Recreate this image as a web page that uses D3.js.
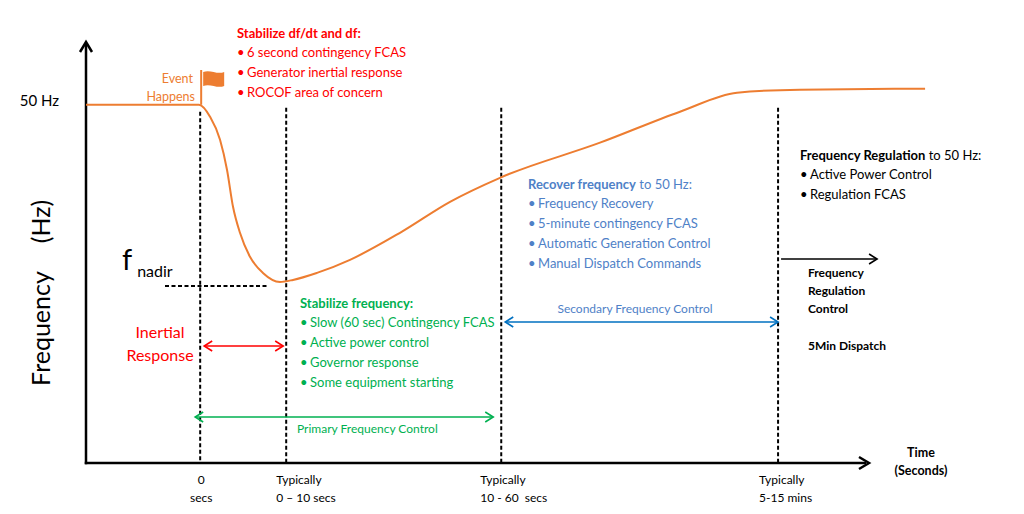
<!DOCTYPE html>
<html>
<head>
<meta charset="utf-8">
<script src="https://cdn.jsdelivr.net/npm/d3@7"></script>
<style>
  body { margin: 0; background: #fff; }
  svg { display: block; font-family: Lato, "Open Sans", sans-serif; }
</style>
</head>
<body>
<div id="chart"></div>
<script>
// frequency trace (t: arbitrary time units, f: Hz)
const curveT = [0, 14.45, 15.86, 17.14, 18.03, 18.8, 19.69, 20.97, 22.63, 24.81, 26.47, 29.54, 33.76, 40.15, 46.55, 52.94, 65.73, 75.96, 83.25, 91.3, 107.3];
const curveF = [50, 50, 49.933, 49.804, 49.637, 49.43, 49.285, 49.151, 49.061, 49.011, 49.022, 49.061, 49.134, 49.285, 49.458, 49.592, 49.788, 49.961, 50.067, 50.084, 50.089];

const nominalF = 50;
const nadirF = 49.01;

// time markers (event, end of inertial, end of primary, end of secondary)
const markerT = [14.6, 25.6, 53.1, 88.5];
const markerLabels = [["0", "secs"], ["Typically", "0 – 10 secs"], ["Typically", "10 - 60  secs"], ["Typically", "5-15 mins"]];

const redTitle = [["Stabilize df/dt and df:", true]];
const redItems = ["6 second contingency FCAS", "Generator inertial response", "ROCOF area of concern"];
const greenTitle = [["Stabilize frequency:", true]];
const greenItems = ["Slow (60 sec) Contingency FCAS", "Active power control", "Governor response", "Some equipment starting"];
const blueTitle = [["Recover frequency", true], [" to 50 Hz:", false]];
const blueItems = ["Frequency Recovery", "5-minute contingency FCAS", "Automatic Generation Control", "Manual Dispatch Commands"];
const blackTitle = [["Frequency Regulation", true], [" to 50 Hz:", false]];
const blackItems = ["Active Power Control", "Regulation FCAS"];
const regulationLabels = ["Frequency", "Regulation", "Control"];

const colors = { orange: "#ED7D31", red: "#FF0000", green: "#00B050", blue: "#4F81C7", blueLine: "#0070C0", black: "#000" };

const width = 1024, height = 514;
const svg = d3.select("#chart").append("svg").attr("width", width).attr("height", height);

const x = d3.scaleLinear().domain([0, 100]).range([86, 868]);
const y = d3.scaleLinear().domain([48, 50.35]).range([463, 42]);
const axisY = y(48);
const topY = y(50.35);

// axes (no ticks, only the nominal frequency label)
const xAxis = svg.append("g")
    .attr("transform", `translate(0,${axisY})`)
    .call(d3.axisBottom(x).tickValues(markerT).tickSize(0).tickSizeOuter(0).tickFormat(() => ""));
const yAxis = svg.append("g")
    .attr("transform", `translate(${x(0)},0)`)
    .call(d3.axisLeft(y).tickValues([nominalF]).tickSize(0).tickSizeOuter(0).tickPadding(27).tickFormat(d => `${d} Hz`));
[xAxis, yAxis].forEach(a => a.select(".domain").attr("stroke", "#000").attr("stroke-width", 2.5));
xAxis.select(".domain").attr("d", `M${x(0) - 1.25},0H${x(100) - 2}`);
yAxis.select(".domain").attr("d", `M0,${axisY + 1.25}V${topY + 2}`);
yAxis.selectAll(".tick text")
    .attr("dy", "0.02em")
    .style("font-family", "Lato, sans-serif").style("font-size", "15px").attr("fill", "#000");

// axis arrowheads
svg.append("path")
    .attr("d", `M${x(0) - 6},${topY + 10}L${x(0)},${topY}L${x(0) + 6},${topY + 10}`)
    .attr("fill", "none").attr("stroke", "#000").attr("stroke-width", 2.5);
svg.append("path")
    .attr("d", `M${x(100) - 9},${axisY - 6}L${x(100) + 1},${axisY}L${x(100) - 9},${axisY + 6}`)
    .attr("fill", "none").attr("stroke", "#000").attr("stroke-width", 2.5);

// tick labels under markers
const labelDx = [0, -10, -21, -19];
markerT.forEach((t, i) => {
    const tx = svg.append("text")
        .attr("font-size", 12)
        .attr("text-anchor", i === 0 ? "middle" : "start")
        .attr("fill", "#000")
        .style("white-space", "pre");
    markerLabels[i].forEach((s, j) => {
        tx.append("tspan")
            .attr("x", x(t) + labelDx[i] + (i === 0 ? 1 : 0))
            .attr("y", 484 + j * 18)
            .text(s);
    });
});

// axis titles
const yTitle = svg.append("text")
    .attr("transform", `translate(50,${y(48.95)}) rotate(-90)`)
    .attr("font-size", 25)
    .attr("text-anchor", "middle");
yTitle.append("tspan").text("Frequency");
yTitle.append("tspan").attr("dx", 28).text("(Hz)");

const timeLabel = svg.append("text").attr("font-size", 12.5).attr("font-weight", 700).attr("text-anchor", "middle");
timeLabel.append("tspan").attr("x", 921).attr("y", 457).text("Time");
timeLabel.append("tspan").attr("x", 921).attr("y", 475).text("(Seconds)");

// marker dashed lines
svg.append("g").selectAll("line")
    .data(markerT)
    .join("line")
    .attr("x1", d => x(d)).attr("x2", d => x(d))
    .attr("y1", (d, i) => y(nominalF) + (i === 0 ? 7 : 3))
    .attr("y2", axisY)
    .attr("stroke", "#000").attr("stroke-width", 2).attr("stroke-dasharray", "4,2.5");

// nadir dashed line
svg.append("line")
    .attr("x1", 165).attr("x2", 268)
    .attr("y1", y(nadirF) + 4).attr("y2", y(nadirF) + 4)
    .attr("stroke", "#000").attr("stroke-width", 2).attr("stroke-dasharray", "4,2.5");

const fLabel = svg.append("text").attr("x", 122).attr("y", y(nadirF) - 12).attr("fill", "#000");
fLabel.append("tspan").attr("font-size", 29).text("f");
fLabel.append("tspan").attr("font-size", 16).attr("dx", 5).attr("dy", 7).text("nadir");

// frequency curve
const line = d3.line()
    .x(d => x(d[0]))
    .y(d => y(d[1]))
    .curve(d3.curveMonotoneX);
svg.append("path")
    .datum(curveT.map((t, i) => [t, curveF[i]]))
    .attr("d", line)
    .attr("fill", "none")
    .attr("stroke", colors.orange)
    .attr("stroke-width", 2);

// event flag
const poleX = x(markerT[0]) + 1;
svg.append("line")
    .attr("x1", poleX).attr("x2", poleX)
    .attr("y1", y(nominalF)).attr("y2", 70)
    .attr("stroke", colors.orange).attr("stroke-width", 2);
const fx = poleX + 2;
svg.append("path")
    .attr("d", `M${fx},72 C${fx + 7},69 ${fx + 14},75 ${fx + 21},72 V86 C${fx + 14},89 ${fx + 7},83 ${fx},86 Z`)
    .attr("fill", colors.orange);
const ev = svg.append("text").attr("font-size", 12.5).attr("fill", colors.orange).attr("text-anchor", "end");
ev.append("tspan").attr("x", 193).attr("y", 83).text("Event");
ev.append("tspan").attr("x", 195).attr("y", 101).text("Happens");

// text blocks
function drawBlock(x0, y0, title, items, color, size) {
    const g = svg.append("g").attr("fill", color).attr("font-size", size);
    const t = g.append("text").attr("x", x0).attr("y", y0);
    title.forEach(([s, bold]) => t.append("tspan").attr("font-weight", bold ? 700 : 400).text(s));
    items.forEach((s, i) => {
        g.append("text").attr("x", x0).attr("y", y0 + 19 + i * 20).text("•");
        g.append("text").attr("x", x0 + 10).attr("y", y0 + 19 + i * 20).text(s);
    });
}
drawBlock(237, 38, redTitle, redItems, colors.red, 13);
drawBlock(300, 308, greenTitle, greenItems, colors.green, 13);
drawBlock(528, 189, blueTitle, blueItems, colors.blue, 13);
drawBlock(800, 160, blackTitle, blackItems, colors.black, 13);

const ir = svg.append("text").attr("font-size", 16).attr("fill", colors.red).attr("text-anchor", "middle");
ir.append("tspan").attr("x", 160).attr("y", 338).text("Inertial");
ir.append("tspan").attr("x", 160).attr("y", 361).text("Response");

// span arrows
function arrow(x1, x2, yy, color, both) {
    const g = svg.append("g").attr("fill", "none").attr("stroke", color).attr("stroke-width", 1.6);
    g.append("line").attr("x1", x1).attr("x2", x2).attr("y1", yy).attr("y2", yy);
    g.append("path").attr("d", `M${x2 - 8},${yy - 5}L${x2},${yy}L${x2 - 8},${yy + 5}`);
    if (both) g.append("path").attr("d", `M${x1 + 8},${yy - 5}L${x1},${yy}L${x1 + 8},${yy + 5}`);
}
arrow(x(markerT[0]) + 4, x(markerT[1]) - 3, 346, colors.red, true);
arrow(x(markerT[0]) - 5, x(markerT[2]) - 8, 417, colors.green, true);
arrow(x(markerT[2]) + 4, x(markerT[3]), 322, colors.blueLine, true);
arrow(x(markerT[3]) + 3, x(markerT[3]) + 99, 259, colors.black, false);

svg.append("text").attr("x", 297).attr("y", 433).attr("font-size", 12).attr("fill", colors.green).text("Primary Frequency Control");
svg.append("text").attr("x", 635).attr("y", 313).attr("font-size", 12)
    .attr("fill", colors.blue).attr("text-anchor", "middle").text("Secondary Frequency Control");

const reg = svg.append("text").attr("font-size", 12).attr("font-weight", 700).attr("fill", "#000");
regulationLabels.forEach((s, i) => reg.append("tspan").attr("x", 808).attr("y", 277 + i * 18).text(s));
reg.append("tspan").attr("x", 808).attr("y", 350).text("5Min Dispatch");
</script>
</body>
</html>
